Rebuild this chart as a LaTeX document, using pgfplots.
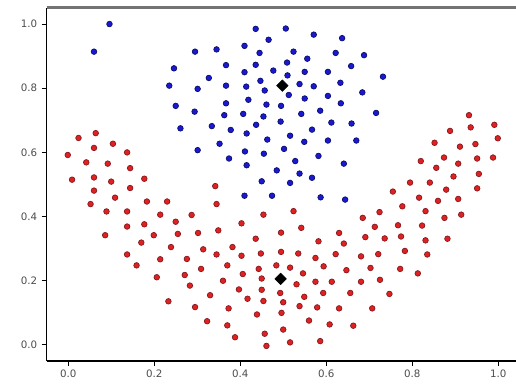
\documentclass[border=0pt]{standalone}
\usepackage{fontspec}
\setmainfont{DejaVu Sans}
\usepackage{pgfplots}
\pgfplotsset{compat=1.18}
\definecolor{bfill}{rgb}{0.1,0.1,0.82}
\definecolor{bedge}{rgb}{0.05,0.05,0.42}
\definecolor{rfill}{rgb}{0.88,0.13,0.13}
\definecolor{redge}{rgb}{0.52,0.1,0.12}
\begin{document}
\begin{tikzpicture}
\useasboundingbox (0,0) rectangle (516bp,384bp);
\begin{axis}[
  at={(46.7bp,23bp)}, anchor=south west,
  scale only axis, width=473bp, height=353bp,
  xmin=-0.05, xmax=1.05, ymin=-0.05, ymax=1.05,
  axis x line*=bottom, axis y line*=left,
  axis line style={black, line width=1.3bp, -},
  tick align=outside, major tick length=5bp,
  tick style={black, line width=1bp},
  xtick={0,0.2,0.4,0.6,0.8,1.0}, ytick={0,0.2,0.4,0.6,0.8,1.0},
  /pgf/number format/assume math mode=true,
  /pgf/number format/.cd, fixed, fixed zerofill, precision=1, /pgfplots/.cd,
  ticklabel style={font=\fontsize{10.3}{12}\selectfont, text=black!70},
  yticklabel style={xshift=-1bp},
  clip=false,
]
\draw[black!55, line width=3bp] (rel axis cs:0,1) -- (rel axis cs:1.02,1);
\addplot[only marks, mark=*, mark size=2.8bp, mark options={fill=rfill, draw=redge, line width=0.7bp}] table {
x y
0.064 0.660
0.024 0.645
0.060 0.614
0.104 0.627
-0.001 0.592
0.137 0.600
0.042 0.569
0.092 0.565
0.144 0.551
0.009 0.515
0.060 0.522
0.100 0.509
0.177 0.518
0.060 0.481
0.144 0.489
0.109 0.459
0.183 0.447
0.230 0.447
0.342 0.495
0.052 0.439
0.345 0.439
0.089 0.416
0.137 0.416
0.214 0.406
0.287 0.405
0.454 0.406
0.086 0.342
0.137 0.369
0.177 0.376
0.250 0.384
0.199 0.342
0.255 0.346
0.302 0.349
0.349 0.357
0.403 0.379
0.170 0.319
0.239 0.305
0.137 0.282
0.214 0.267
0.276 0.268
0.314 0.298
0.345 0.282
0.382 0.305
0.403 0.278
0.436 0.331
0.495 0.350
0.448 0.285
0.495 0.290
0.159 0.248
0.309 0.237
0.271 0.218
0.206 0.211
0.360 0.200
0.406 0.221
0.443 0.237
0.370 0.248
0.484 0.248
0.450 0.207
0.283 0.185
0.397 0.173
0.450 0.172
0.493 0.162
0.330 0.155
0.233 0.136
0.417 0.144
0.454 0.137
0.500 0.133
0.295 0.118
0.373 0.114
0.439 0.095
0.496 0.100
0.323 0.074
0.370 0.061
0.388 0.024
0.457 0.035
0.500 0.048
0.461 -0.003
0.755 0.478
0.524 0.417
0.724 0.414
0.777 0.432
0.685 0.396
0.542 0.365
0.713 0.368
0.767 0.373
0.630 0.349
0.582 0.323
0.641 0.316
0.691 0.336
0.736 0.332
0.774 0.338
0.535 0.285
0.575 0.271
0.622 0.283
0.681 0.276
0.721 0.283
0.516 0.241
0.594 0.245
0.647 0.233
0.703 0.240
0.772 0.237
0.546 0.223
0.531 0.189
0.575 0.197
0.613 0.197
0.681 0.197
0.725 0.203
0.593 0.162
0.656 0.162
0.747 0.159
0.549 0.150
0.538 0.121
0.579 0.117
0.630 0.114
0.707 0.114
0.560 0.076
0.608 0.064
0.663 0.060
0.516 0.008
0.586 0.012
0.932 0.716
0.991 0.686
0.936 0.678
0.888 0.667
0.999 0.644
0.852 0.630
0.947 0.626
0.911 0.618
0.874 0.584
0.951 0.581
0.988 0.584
0.820 0.573
0.907 0.565
0.856 0.552
0.955 0.533
0.896 0.525
0.795 0.506
0.841 0.506
0.879 0.484
0.951 0.488
0.816 0.459
0.860 0.449
0.907 0.455
0.831 0.417
0.875 0.396
0.914 0.406
0.823 0.372
0.831 0.326
0.882 0.331
0.783 0.293
0.835 0.282
0.813 0.223
};
\addplot[only marks, mark=*, mark size=2.8bp, mark options={fill=bfill, draw=bedge, line width=0.7bp}] table {
x y
0.096 1.000
0.060 0.914
0.436 0.985
0.506 0.986
0.466 0.951
0.295 0.914
0.345 0.921
0.410 0.932
0.445 0.910
0.246 0.862
0.367 0.872
0.436 0.873
0.477 0.855
0.410 0.850
0.327 0.832
0.235 0.808
0.301 0.798
0.367 0.808
0.414 0.805
0.447 0.823
0.457 0.793
0.250 0.745
0.294 0.727
0.367 0.753
0.419 0.764
0.461 0.749
0.495 0.745
0.363 0.716
0.407 0.720
0.454 0.712
0.494 0.696
0.261 0.675
0.334 0.682
0.378 0.670
0.437 0.686
0.415 0.659
0.352 0.627
0.463 0.640
0.301 0.607
0.411 0.603
0.455 0.596
0.502 0.611
0.374 0.581
0.415 0.560
0.485 0.544
0.450 0.510
0.571 0.967
0.637 0.956
0.524 0.914
0.556 0.892
0.622 0.910
0.688 0.903
0.509 0.880
0.658 0.869
0.550 0.851
0.604 0.851
0.732 0.836
0.510 0.840
0.538 0.813
0.571 0.806
0.633 0.817
0.513 0.779
0.550 0.768
0.604 0.776
0.684 0.787
0.634 0.753
0.542 0.720
0.586 0.730
0.716 0.723
0.612 0.693
0.659 0.690
0.567 0.671
0.516 0.652
0.549 0.633
0.604 0.637
0.670 0.637
0.582 0.589
0.528 0.573
0.641 0.565
0.538 0.534
0.567 0.521
0.516 0.505
0.410 0.465
0.474 0.465
0.587 0.460
0.644 0.453
};
\addplot[only marks, mark=square*, mark size=4.1bp, mark options={rotate=45, fill=black, draw=black}] table {
x y
0.498 0.808
0.494 0.206
};
\end{axis}
\end{tikzpicture}
\end{document}
